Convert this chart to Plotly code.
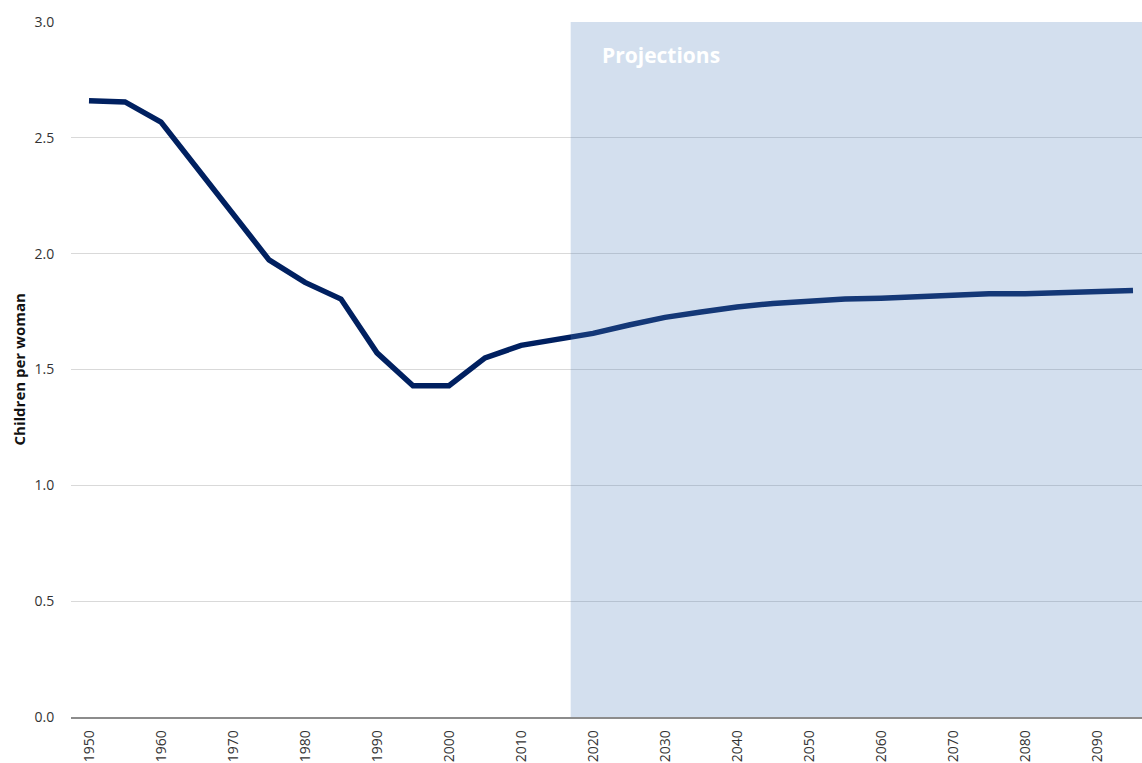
import plotly.graph_objects as go

years = [1950, 1955, 1960, 1965, 1970, 1975, 1980, 1985, 1990, 1995, 2000, 2005, 2010, 2015,
         2020, 2025, 2030, 2035, 2040, 2045, 2050, 2055, 2060, 2065, 2070, 2075, 2080, 2085, 2090, 2095]
fertility = [2.66, 2.655, 2.568, 2.37, 2.17, 1.973, 1.876, 1.804, 1.572, 1.43, 1.43, 1.55, 1.604, 1.628,
             1.656, 1.692, 1.725, 1.748, 1.77, 1.785, 1.797, 1.804, 1.808, 1.814, 1.82, 1.827, 1.827, 1.833, 1.834, 1.841]
x_ticks = list(range(1950, 2100, 10))
projection_start = 2016.9
x_range = [1947.5, 2096.25]

FONT = "Open Sans"

fig = go.Figure()
fig.add_trace(go.Scatter(
    x=years, y=fertility, mode="lines",
    line=dict(color="#002060", width=5.5, shape="linear"),
    showlegend=False, hoverinfo="x+y",
))

fig.add_shape(type="rect", xref="x", yref="y",
              x0=projection_start, x1=x_range[1], y0=0, y1=3.0,
              fillcolor="#4f81bd", opacity=0.25, line=dict(width=0), layer="above")

fig.add_annotation(x=2021, y=2.858, xref="x", yref="y", text="<b>Projections</b>",
                   showarrow=False, xanchor="left", yanchor="middle",
                   font=dict(family=FONT, size=21, color="white"))

fig.add_annotation(x=-53/1071, y=0.5, xref="paper", yref="paper", text="<b>Children per woman</b>",
                   showarrow=False, textangle=-90, xanchor="center", yanchor="middle",
                   font=dict(family=FONT, size=15, color="#111111"))

fig.update_layout(
    width=1142, height=763,
    margin=dict(l=71, r=0, t=22, b=46, autoexpand=False),
    plot_bgcolor="white", paper_bgcolor="white",
    font=dict(family=FONT, size=14, color="#333333"),
)
fig.update_xaxes(
    range=x_range, tickvals=x_ticks, ticktext=[str(v) for v in x_ticks],
    tickangle=-90, showgrid=False, zeroline=False,
    showline=True, linecolor="#8c8c8c", linewidth=1.5,
    ticks="outside", ticklen=6, tickcolor="rgba(0,0,0,0)",
    tickfont=dict(family=FONT, size=14, color="#333333"),
    automargin=False,
)
fig.update_yaxes(
    range=[0, 3.0], dtick=0.5, tickformat=".1f",
    showgrid=True, gridcolor="#d9d9d9", gridwidth=1.2, zeroline=False, showline=False,
    ticks="outside", ticklen=13, tickcolor="rgba(0,0,0,0)",
    tickfont=dict(family=FONT, size=14, color="#333333"),
    automargin=False,
)

fig.write_html("out.html",
               config={"displayModeBar": False},
               post_script="document.body.style.margin='0';document.body.style.overflow='hidden';")
